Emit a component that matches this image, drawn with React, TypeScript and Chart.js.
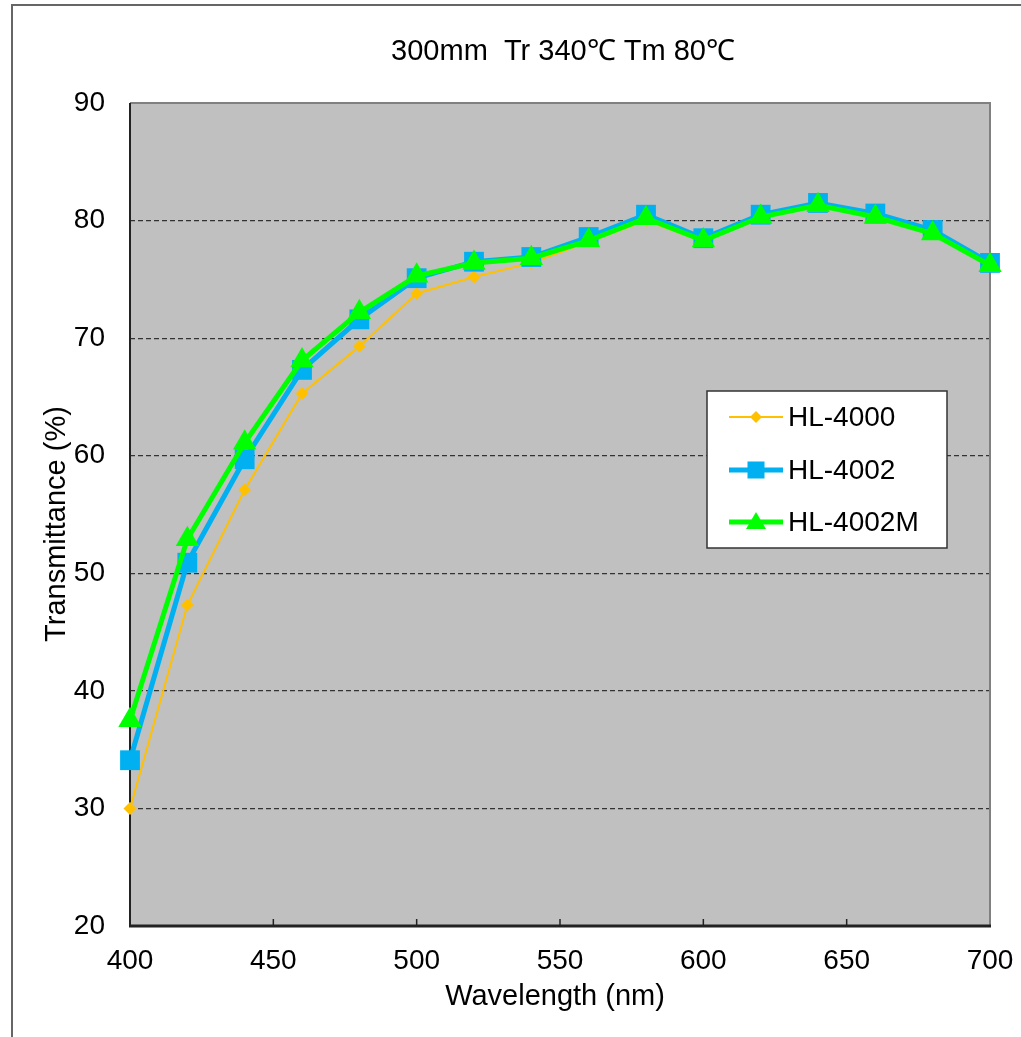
import React, { useEffect, useRef } from "react";
import { Chart, registerables } from "chart.js";

Chart.register(...registerables);

const TITLE = "300mm  Tr 340\u2103 Tm 80\u2103";
const X_TITLE = "Wavelength (nm)";
const Y_TITLE = "Transmittance (%)";

const wavelengths = [400, 420, 440, 460, 480, 500, 520, 540, 560, 580, 600, 620, 640, 660, 680, 700];
const hl4000 = [30.0, 47.3, 57.1, 65.3, 69.3, 73.8, 75.2, 76.4, 78.2, 80.0, 78.2, 80.3, 81.3, 80.3, 78.9, 76.2];
const hl4002 = [34.1, 50.9, 59.7, 67.3, 71.6, 75.1, 76.5, 76.9, 78.6, 80.5, 78.5, 80.5, 81.5, 80.6, 79.2, 76.4];
const hl4002m = [37.5, 52.9, 61.1, 68.1, 72.2, 75.3, 76.4, 76.8, 78.3, 80.2, 78.3, 80.3, 81.3, 80.3, 78.9, 76.2];

const seriesNames = ["HL-4000", "HL-4002", "HL-4002M"];
const seriesColors = ["#FFC000", "#00B0F0", "#00FF00"];

const xTicks = [400, 450, 500, 550, 600, 650, 700];
const yMin = 20;
const yMax = 90;

const FONT = "'Liberation Sans', Arial, sans-serif";

const toPoints = (ys: number[]) => wavelengths.map((x, i) => ({ x, y: ys[i] }));

const decorPlugin = {
  id: "decor",
  beforeDraw(chart: any) {
    const { ctx, chartArea: a, width, height } = chart;
    ctx.save();
    ctx.fillStyle = "#ffffff";
    ctx.fillRect(0, 0, width, height);
    // outer frame (left & top)
    ctx.fillStyle = "#666666";
    ctx.fillRect(11, 4, 2, height - 4);
    ctx.fillRect(11, 4, width - 11, 2);
    // plot background
    ctx.fillStyle = "#c0c0c0";
    ctx.fillRect(a.left, a.top, a.right - a.left, a.bottom - a.top);
    ctx.restore();
  },
  beforeDatasetsDraw(chart: any) {
    const { ctx, chartArea: a, scales } = chart;
    ctx.save();
    // top & right border (gray)
    ctx.strokeStyle = "#808080";
    ctx.lineWidth = 2;
    ctx.beginPath();
    ctx.moveTo(a.left, a.top);
    ctx.lineTo(a.right, a.top);
    ctx.lineTo(a.right, a.bottom);
    ctx.stroke();
    // left axis
    ctx.strokeStyle = "#222222";
    ctx.lineWidth = 2;
    ctx.beginPath();
    ctx.moveTo(a.left, a.top);
    ctx.lineTo(a.left, a.bottom);
    ctx.stroke();
    // bottom axis
    ctx.lineWidth = 3;
    ctx.beginPath();
    ctx.moveTo(a.left - 1, a.bottom);
    ctx.lineTo(a.right + 1, a.bottom);
    ctx.stroke();
    // x tick marks (inside)
    ctx.lineWidth = 1.5;
    xTicks.forEach((v) => {
      if (v === xTicks[0] || v === xTicks[xTicks.length - 1]) return;
      const px = scales.x.getPixelForValue(v);
      ctx.beginPath();
      ctx.moveTo(px, a.bottom);
      ctx.lineTo(px, a.bottom - 7);
      ctx.stroke();
    });
    ctx.restore();
  },
  afterDraw(chart: any) {
    const { ctx } = chart;
    ctx.save();
    ctx.fillStyle = "#000000";
    ctx.textAlign = "center";
    ctx.textBaseline = "middle";
    ctx.font = `29px ${FONT}`;
    ctx.fillText(TITLE, 563, 52);
    ctx.font = `29px ${FONT}`;
    ctx.fillText(X_TITLE, 555, 997);
    ctx.save();
    ctx.translate(57, 524);
    ctx.rotate(-Math.PI / 2);
    ctx.fillText(Y_TITLE, 0, 0);
    ctx.restore();

    // legend
    const lx = 707, ly = 391, lw = 240, lh = 157;
    ctx.fillStyle = "#ffffff";
    ctx.fillRect(lx, ly, lw, lh);
    ctx.strokeStyle = "#333333";
    ctx.lineWidth = 1.5;
    ctx.strokeRect(lx, ly, lw, lh);
    const rows = [417, 470, 522];
    const widths = [2, 5, 5];
    rows.forEach((ry, i) => {
      ctx.strokeStyle = seriesColors[i];
      ctx.fillStyle = seriesColors[i];
      ctx.lineWidth = widths[i];
      ctx.beginPath();
      ctx.moveTo(729, ry);
      ctx.lineTo(783, ry);
      ctx.stroke();
      const cx = 756;
      ctx.beginPath();
      if (i === 0) {
        ctx.moveTo(cx, ry - 6);
        ctx.lineTo(cx + 6, ry);
        ctx.lineTo(cx, ry + 6);
        ctx.lineTo(cx - 6, ry);
        ctx.closePath();
        ctx.fill();
      } else if (i === 1) {
        ctx.fillRect(cx - 8.5, ry - 8.5, 17, 17);
      } else {
        ctx.moveTo(cx, ry - 10);
        ctx.lineTo(cx + 10, ry + 7);
        ctx.lineTo(cx - 10, ry + 7);
        ctx.closePath();
        ctx.fill();
      }
      ctx.fillStyle = "#000000";
      ctx.textAlign = "left";
      ctx.font = `28px ${FONT}`;
      ctx.fillText(seriesNames[i], 788, ry + 1);
    });
    ctx.restore();
  },
};

export default function App() {
  const ref = useRef<HTMLCanvasElement | null>(null);
  useEffect(() => {
    if (!ref.current) return;
    const chart = new Chart(ref.current, {
      type: "line",
      data: {
        datasets: [
          {
            label: seriesNames[0],
            data: toPoints(hl4000),
            borderColor: seriesColors[0],
            backgroundColor: seriesColors[0],
            borderWidth: 2,
            pointStyle: "rectRot",
            pointRadius: 6.5,
            pointBorderWidth: 0,
            clip: false as any,
            order: 2,
          },
          {
            label: seriesNames[1],
            data: toPoints(hl4002),
            borderColor: seriesColors[1],
            backgroundColor: seriesColors[1],
            borderWidth: 5,
            pointStyle: "rect",
            pointRadius: 14,
            pointBorderWidth: 0,
            clip: false as any,
            order: 1,
          },
          {
            label: seriesNames[2],
            data: toPoints(hl4002m),
            borderColor: seriesColors[2],
            backgroundColor: seriesColors[2],
            borderWidth: 5,
            pointStyle: "triangle",
            pointRadius: 13.5,
            pointBorderWidth: 0,
            clip: false as any,
            order: 0,
          },
        ],
      },
      options: {
        responsive: false,
        animation: false,
        layout: { padding: { top: 103, right: 31, left: 0, bottom: 0 } },
        plugins: {
          legend: { display: false },
          title: { display: false },
          tooltip: { enabled: false },
        },
        elements: { line: { tension: 0 } },
        scales: {
          x: {
            type: "linear",
            min: 400,
            max: 700,
            afterFit: (s: any) => {
              s.height = 111;
              s.paddingLeft = 0;
              s.paddingRight = 0;
            },
            afterBuildTicks: (s: any) => {
              s.ticks = xTicks.map((v) => ({ value: v }));
            },
            grid: { display: false, drawTicks: false },
            border: { display: false },
            ticks: {
              color: "#000000",
              font: { family: FONT, size: 28 },
              padding: 18,
              maxRotation: 0,
              autoSkip: false,
            },
          },
          y: {
            type: "linear",
            min: yMin,
            max: yMax,
            afterFit: (s: any) => {
              s.width = 130;
              s.paddingTop = 0;
              s.paddingBottom = 0;
            },
            grid: {
              drawTicks: false,
              color: (c: any) =>
                c.tick && (c.tick.value === yMin || c.tick.value === yMax) ? "rgba(0,0,0,0)" : "#333333",
              lineWidth: 1.2,
            },
            border: { display: false, dash: [5, 3] },
            ticks: {
              stepSize: 10,
              color: "#000000",
              font: { family: FONT, size: 28 },
              padding: 25,
            },
          },
        },
      },
      plugins: [decorPlugin],
    });
    return () => chart.destroy();
  }, []);
  return (
    <canvas
      ref={ref}
      width={1021}
      height={1037}
      style={{ position: "absolute", left: 0, top: 0, width: 1021, height: 1037, display: "block" }}
    />
  );
}
